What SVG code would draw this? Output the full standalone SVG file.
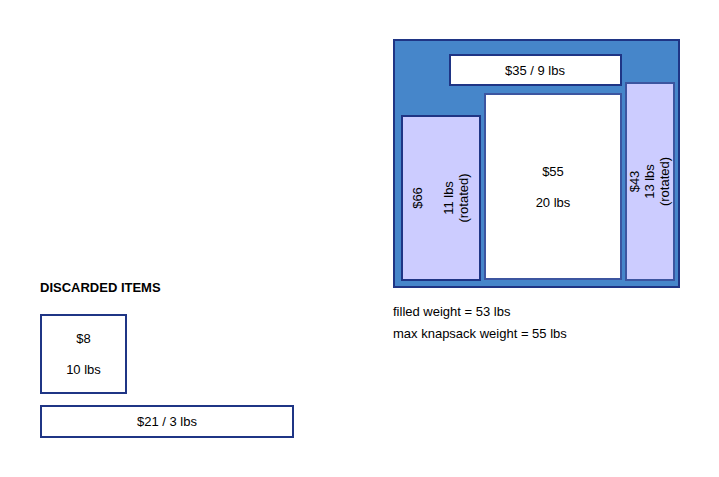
<svg xmlns="http://www.w3.org/2000/svg" width="719" height="477" viewBox="0 0 719 477">
<style>
text{font-family:"Liberation Sans",Arial,sans-serif;font-size:13px;fill:#000}
.mid{text-anchor:middle}
.item{stroke:#1f3585;stroke-width:2}
.soft{stroke:#3c55a0;stroke-width:2}
.white{fill:#fff}
.lav{fill:#ccccff}
</style>
<rect width="719" height="477" fill="#fff"/>
<g id="knapsack">
<rect x="394" y="40" width="285" height="247" fill="#4686ca" stroke="#1f3585" stroke-width="2"/>
</g>
<g id="item-35">
<rect class="item white" x="450" y="55" width="171" height="30"/>
<text class="mid" x="535" y="75">$35 / 9 lbs</text>
</g>
<g id="item-55">
<rect class="soft white" x="485" y="94" width="136" height="185"/>
<text class="mid" x="553" y="176">$55</text>
<text class="mid" x="553" y="207">20 lbs</text>
</g>
<g id="item-66">
<rect class="item lav" x="402" y="116" width="78" height="164"/>
<g transform="translate(441,198) rotate(-90)">
<text class="mid" x="0" y="-19">$66</text>
<text class="mid" x="0" y="12">11 lbs</text>
<text class="mid" x="0" y="27">(rotated)</text>
</g>
</g>
<g id="item-43">
<rect class="soft lav" x="626" y="83" width="48" height="197"/>
<g transform="translate(650,181.5) rotate(-90)">
<text class="mid" x="0" y="-11.5">$43</text>
<text class="mid" x="0" y="3.5">13 lbs</text>
<text class="mid" x="0" y="19">(rotated)</text>
</g>
</g>
<g id="summary">
<text x="393" y="316">filled weight = 53 lbs</text>
<text x="393" y="338">max knapsack weight = 55 lbs</text>
</g>
<g id="discarded">
<text x="40" y="292" style="font-weight:bold;font-size:13px">DISCARDED ITEMS</text>
</g>
<g id="item-8">
<rect class="item white" x="41" y="315" width="85" height="78"/>
<text class="mid" x="83.5" y="343">$8</text>
<text class="mid" x="83.5" y="374">10 lbs</text>
</g>
<g id="item-21">
<rect class="item white" x="41" y="406" width="252" height="31"/>
<text class="mid" x="167" y="426">$21 / 3 lbs</text>
</g>
<g id="connectors"></g>
</svg>
